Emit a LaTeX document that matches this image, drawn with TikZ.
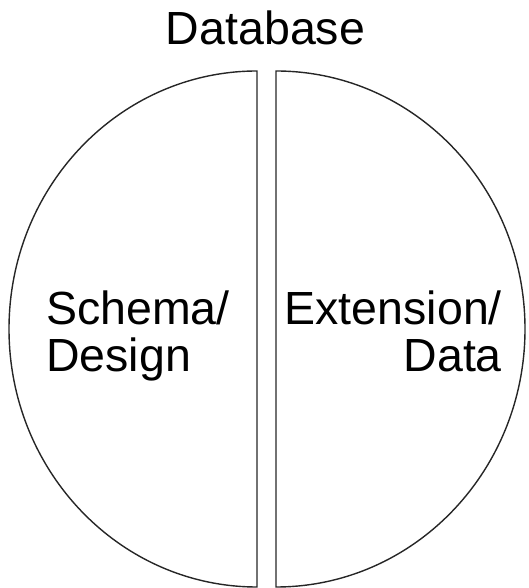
\documentclass[tikz,border=0pt]{standalone}
\usepackage{fontspec}
\setmainfont{Liberation Sans}
\begin{document}
\begin{tikzpicture}[x=1pt,y=1pt,
  half/.style={draw=black!85,line width=1.4pt,line join=miter},
  label/.style={inner sep=0pt,font=\fontsize{46.5}{55}\selectfont}]
\useasboundingbox (0,0) rectangle (529,588);
% the two halves of the database, separated by a narrow gap
\draw[half] (257,517) arc[start angle=90,end angle=270,x radius=248,y radius=258] -- cycle;
\draw[half] (276,517) arc[start angle=90,end angle=-90,x radius=249,y radius=258] -- cycle;
% title
\node[label,anchor=base] (title) at (265.5,543) {Database};
% left half: schema
\node[label,anchor=base west] (schema) at (46,263) {Schema/};
\node[label,anchor=base west] (design) at (46,216) {Design};
% right half: extension
\node[label,anchor=base east] (extension) at (502,263) {Extension/};
\node[label,anchor=base east] (data) at (502,216) {Data};
\end{tikzpicture}
\end{document}
